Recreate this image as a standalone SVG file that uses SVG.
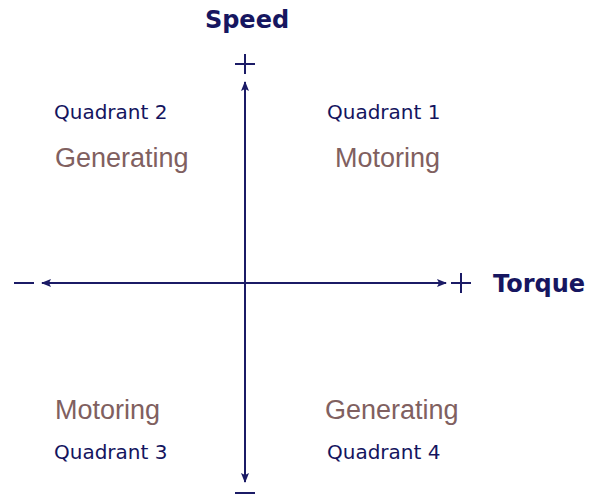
<svg xmlns="http://www.w3.org/2000/svg" width="590" height="499" viewBox="0 0 590 499">
<style>
.ax{stroke:#1b1b66;stroke-width:2;fill:none}
.sg{stroke:#1b1b66;stroke-width:2}
.title{font-family:"DejaVu Sans",Verdana,sans-serif;font-weight:bold;font-size:24px;fill:#161660}
.q{font-family:"DejaVu Sans",Verdana,sans-serif;font-size:20px;fill:#14145e}
.m{font-family:"Liberation Sans",Arial,sans-serif;font-size:27px;fill:#806060}
</style>
<defs>
<marker id="ah" viewBox="0 0 10 10" refX="9" refY="5" markerWidth="5" markerHeight="5" orient="auto-start-reverse" markerUnits="strokeWidth">
<path d="M0,1 L10,5 L0,9 L2,5 Z" fill="#1b1b66"/>
</marker>
</defs>
<rect width="590" height="499" fill="#fff"/>
<g id="connectors">
<line class="ax" x1="245" y1="82" x2="245" y2="482" marker-start="url(#ah)" marker-end="url(#ah)"/>
<line class="ax" x1="42" y1="283" x2="446" y2="283" marker-start="url(#ah)" marker-end="url(#ah)"/>
</g>
<g id="signs">
<line class="sg" x1="235" y1="64" x2="255" y2="64"/>
<line class="sg" x1="245" y1="54" x2="245" y2="74"/>
<line class="sg" x1="451" y1="283" x2="471" y2="283"/>
<line class="sg" x1="461" y1="273" x2="461" y2="293"/>
<line class="sg" x1="14" y1="283" x2="34" y2="283"/>
<line class="sg" x1="235" y1="493" x2="255" y2="493"/>
</g>
<g id="speed"><text class="title" x="247" y="28" text-anchor="middle">Speed</text></g>
<g id="torque"><text class="title" x="493" y="292">Torque</text></g>
<g id="q1">
<text class="q" x="327" y="119">Quadrant 1</text>
<text class="m" x="335" y="167">Motoring</text>
</g>
<g id="q2">
<text class="q" x="54" y="119">Quadrant 2</text>
<text class="m" x="55" y="167">Generating</text>
</g>
<g id="q3">
<text class="m" x="55" y="419">Motoring</text>
<text class="q" x="54" y="459">Quadrant 3</text>
</g>
<g id="q4">
<text class="m" x="325" y="419">Generating</text>
<text class="q" x="327" y="459">Quadrant 4</text>
</g>
</svg>
